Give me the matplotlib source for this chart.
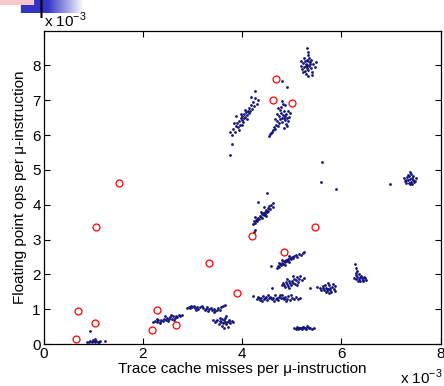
import matplotlib
matplotlib.use("Agg")
import matplotlib.pyplot as plt
import numpy as np

plt.rcParams.update({
    "font.family": ["Liberation Sans", "DejaVu Sans"],
    "font.size": 10,
    "xtick.direction": "in",
    "ytick.direction": "in",
})

# blue samples (units of 1e-3), grouped by cluster
blue_pts = [
    # top cluster
    (5.31, 8.02), (5.28, 8.05), (5.35, 7.98), (5.25, 7.95), (5.38, 8.10), (5.30, 8.15),
    (5.22, 8.08), (5.33, 7.88), (5.40, 7.92), (5.27, 7.85), (5.36, 8.20), (5.19, 7.98),
    (5.44, 8.03), (5.29, 7.76), (5.34, 8.30), (5.24, 8.22), (5.41, 7.80), (5.21, 7.90),
    (5.47, 7.96), (5.32, 7.70), (5.26, 8.12), (5.37, 8.05), (5.30, 7.93), (5.34, 8.12),
    (5.28, 7.98), (5.39, 8.16), (5.18, 8.12), (5.50, 8.10), (5.42, 7.72), (5.31, 8.49),
    (5.33, 8.38), (5.23, 7.80),
    # left diagonal
    (3.76, 6.10), (3.80, 6.00), (3.82, 6.18), (3.85, 6.08), (3.88, 6.25), (3.90, 6.35),
    (3.92, 6.22), (3.94, 6.40), (3.96, 6.30), (3.97, 6.50), (3.99, 6.42), (4.01, 6.55),
    (4.02, 6.38), (4.04, 6.48), (4.05, 6.60), (4.07, 6.52), (4.08, 6.66), (4.10, 6.58),
    (4.12, 6.70), (4.14, 6.62), (4.15, 6.78), (4.17, 6.68), (4.19, 6.85), (4.21, 6.75),
    (4.22, 6.95), (4.25, 6.82), (4.27, 7.05), (4.30, 6.90), (4.33, 7.00), (4.18, 7.10),
    (4.26, 7.26), (3.87, 6.55), (3.93, 6.15), (4.00, 6.28), (3.98, 6.60), (4.06, 6.72),
    (3.84, 6.35), (4.11, 6.45), (3.75, 5.42), (3.79, 5.75),
    # right diagonal
    (4.55, 5.97), (4.57, 6.02), (4.59, 6.05), (4.60, 6.10), (4.62, 6.15), (4.64, 6.22),
    (4.66, 6.18), (4.68, 6.30), (4.70, 6.40), (4.72, 6.25), (4.74, 6.55), (4.75, 6.35),
    (4.77, 6.45), (4.78, 6.62), (4.80, 6.50), (4.81, 6.38), (4.83, 6.58), (4.84, 6.48),
    (4.85, 6.70), (4.86, 6.42), (4.87, 6.55), (4.88, 6.60), (4.89, 6.32), (4.90, 6.48),
    (4.92, 6.68), (4.93, 6.40), (4.95, 6.52), (4.97, 6.62), (4.79, 6.80), (4.82, 6.90),
    (4.86, 6.85), (4.76, 6.72), (4.70, 6.60), (4.91, 6.25), (4.80, 6.97), (4.90, 7.38),
    (4.81, 7.54), (4.73, 6.78), (4.84, 6.20), (4.66, 6.45),
    # far right
    (7.38, 4.73), (7.35, 4.70), (7.42, 4.76), (7.33, 4.78), (7.40, 4.66), (7.45, 4.72),
    (7.30, 4.72), (7.37, 4.82), (7.44, 4.81), (7.36, 4.63), (7.48, 4.69), (7.28, 4.68),
    (7.41, 4.88), (7.34, 4.86), (7.50, 4.77), (7.39, 4.60), (7.31, 4.62), (7.46, 4.64),
    (7.26, 4.76), (7.43, 4.58), (7.38, 4.95), (6.98, 4.59),
    # strays
    (5.61, 5.23), (5.59, 4.64), (5.90, 4.45), (4.50, 4.33),
    # mid diagonal ~ (4.4, 3.7)
    (4.22, 3.45), (4.24, 3.52), (4.26, 3.48), (4.28, 3.56), (4.30, 3.60), (4.31, 3.53),
    (4.33, 3.63), (4.35, 3.58), (4.36, 3.68), (4.38, 3.65), (4.40, 3.72), (4.41, 3.62),
    (4.43, 3.76), (4.44, 3.70), (4.46, 3.80), (4.47, 3.74), (4.49, 3.85), (4.50, 3.78),
    (4.52, 3.90), (4.53, 3.82), (4.55, 3.95), (4.57, 3.88), (4.59, 4.00), (4.62, 3.92),
    (4.63, 4.04), (4.33, 4.09), (4.45, 3.92), (4.38, 3.80), (4.27, 3.65), (4.48, 3.68),
    (4.24, 3.21), (4.26, 3.27),
    # ~ (4.9, 2.4)
    (4.71, 2.19), (4.73, 2.25), (4.75, 2.22), (4.77, 2.30), (4.79, 2.27), (4.81, 2.33),
    (4.83, 2.30), (4.85, 2.38), (4.87, 2.35), (4.89, 2.42), (4.90, 2.37), (4.92, 2.45),
    (4.93, 2.40), (4.95, 2.36), (4.96, 2.48), (4.98, 2.43), (5.00, 2.50), (5.02, 2.46),
    (5.05, 2.52), (5.08, 2.55), (5.11, 2.50), (5.14, 2.58), (5.18, 2.56), (5.22, 2.62),
    (5.25, 2.64), (4.86, 2.28), (4.80, 2.40), (4.94, 2.52), (4.74, 2.33), (4.59, 2.25),
    # ~ (5.0, 1.75)
    (4.80, 1.70), (4.83, 1.74), (4.85, 1.68), (4.88, 1.77), (4.90, 1.72), (4.92, 1.66),
    (4.94, 1.80), (4.96, 1.74), (4.98, 1.69), (5.00, 1.82), (5.02, 1.76), (5.04, 1.88),
    (5.06, 1.72), (5.08, 1.84), (5.10, 1.92), (5.12, 1.78), (5.14, 1.86), (5.17, 1.95),
    (5.20, 1.83), (5.24, 1.90), (4.87, 1.63), (4.95, 1.62), (5.03, 1.95), (5.11, 1.70),
    (4.91, 1.86), (4.60, 1.62),
    # band ~ 1.3
    (4.22, 1.37), (4.30, 1.30), (4.33, 1.35), (4.36, 1.27), (4.39, 1.32), (4.42, 1.38),
    (4.45, 1.29), (4.48, 1.34), (4.51, 1.26), (4.54, 1.31), (4.57, 1.36), (4.60, 1.28),
    (4.63, 1.33), (4.66, 1.40), (4.69, 1.30), (4.72, 1.25), (4.75, 1.35), (4.78, 1.31),
    (4.81, 1.42), (4.84, 1.28), (4.87, 1.34), (4.90, 1.30), (4.93, 1.37), (4.96, 1.27),
    (5.00, 1.33), (5.04, 1.30), (5.08, 1.36), (5.12, 1.29), (5.17, 1.32), (4.40, 1.24),
    (4.52, 1.40), (4.64, 1.24), (4.76, 1.40), (4.88, 1.24), (4.98, 1.40), (4.34, 1.32),
    (4.46, 1.31), (4.58, 1.33), (4.70, 1.33), (4.82, 1.32),
    # ~ (5.74, 1.6)
    (5.74, 1.59), (5.70, 1.62), (5.78, 1.56), (5.66, 1.55), (5.81, 1.64), (5.72, 1.52),
    (5.76, 1.68), (5.63, 1.60), (5.85, 1.58), (5.68, 1.70), (5.80, 1.50), (5.60, 1.56),
    (5.87, 1.66), (5.75, 1.47), (5.69, 1.48), (5.83, 1.72), (5.64, 1.66), (5.73, 1.74),
    (5.58, 1.62), (5.88, 1.53), (5.71, 1.57), (5.77, 1.61), (5.37, 1.61), (5.52, 1.63),
    # ~ (5.25, 0.46)
    (5.04, 0.46), (5.08, 0.44), (5.11, 0.48), (5.14, 0.45), (5.17, 0.47), (5.20, 0.43),
    (5.23, 0.49), (5.26, 0.46), (5.29, 0.44), (5.32, 0.48), (5.35, 0.45), (5.38, 0.47),
    (5.42, 0.44), (5.46, 0.46), (5.13, 0.42), (5.22, 0.50), (5.30, 0.51), (5.18, 0.45),
    (5.27, 0.47), (5.10, 0.46),
    # ~ (6.37, 1.88)
    (6.26, 1.90), (6.29, 1.86), (6.32, 1.93), (6.35, 1.88), (6.38, 1.82), (6.41, 1.90),
    (6.44, 1.85), (6.47, 1.89), (6.50, 1.84), (6.34, 1.80), (6.40, 1.96), (6.30, 1.98),
    (6.37, 1.92), (6.43, 1.80), (6.28, 2.31), (6.30, 2.19), (6.32, 2.10), (6.29, 2.05),
    (6.35, 2.02), (6.46, 1.93),
    # band ~ 1.0
    (2.89, 1.04), (2.93, 1.07), (2.96, 1.02), (3.00, 1.06), (3.03, 1.09), (3.06, 1.03),
    (3.09, 1.07), (3.12, 1.01), (3.15, 1.05), (3.19, 1.08), (3.22, 1.03), (3.25, 0.98),
    (3.28, 1.01), (3.31, 0.96), (3.34, 1.00), (3.37, 1.04), (3.40, 0.97), (3.43, 1.01),
    (3.46, 0.95), (3.49, 0.99), (3.52, 1.03), (3.55, 0.97), (3.58, 1.06), (3.61, 1.10),
    (3.29, 1.05), (3.44, 0.93), (3.08, 0.99), (2.98, 1.10), (3.66, 1.11),
    # ~ (3.63, 0.64)
    (3.42, 0.68), (3.46, 0.62), (3.50, 0.70), (3.53, 0.58), (3.56, 0.66), (3.59, 0.72),
    (3.62, 0.61), (3.64, 0.68), (3.67, 0.56), (3.70, 0.64), (3.73, 0.70), (3.76, 0.60),
    (3.79, 0.66), (3.82, 0.63), (3.60, 0.52), (3.66, 0.76), (3.55, 0.74), (3.71, 0.50),
    (3.63, 0.46), (3.48, 0.66), (3.68, 0.80), (3.58, 0.62), (3.74, 0.66), (3.65, 0.64),
    # ~ (2.5, 0.72)
    (2.21, 0.63), (2.25, 0.66), (2.28, 0.62), (2.31, 0.68), (2.34, 0.64), (2.37, 0.70),
    (2.40, 0.67), (2.43, 0.73), (2.46, 0.69), (2.49, 0.75), (2.52, 0.71), (2.55, 0.77),
    (2.58, 0.73), (2.61, 0.79), (2.64, 0.75), (2.67, 0.81), (2.70, 0.77), (2.73, 0.82),
    (2.76, 0.79), (2.79, 0.83), (2.35, 0.61), (2.50, 0.65), (2.62, 0.70), (2.44, 0.80),
    (2.57, 0.83), (2.29, 0.72),
    # ~ (1.0, 0.07)
    (0.88, 0.07), (0.91, 0.05), (0.94, 0.09), (0.97, 0.06), (1.00, 0.08), (1.03, 0.05),
    (1.06, 0.10), (1.09, 0.07), (1.12, 0.06), (1.14, 0.09), (1.04, 0.15), (0.99, 0.11),
    (1.24, 0.10), (0.94, 0.38),
]

# red circles (units of 1e-3)
red_x = [0.66, 0.69, 1.04, 1.05, 1.53, 2.19, 2.28, 2.66, 3.34, 3.90, 4.20, 4.62, 4.69, 4.85, 5.00, 5.47]
red_y = [0.13, 0.95, 0.59, 3.35, 4.62, 0.39, 0.97, 0.54, 2.33, 1.47, 3.09, 7.01, 7.60, 2.64, 6.92, 3.37]

blue = np.array(blue_pts)

fig = plt.figure(figsize=(4.44, 3.86), dpi=100)

# slide decoration in the top-left corner
deco = fig.add_axes([0, 1 - 18 / 386, 82 / 444, 18 / 386])
img = np.ones((18, 80, 3))
for j in range(80):
    if j >= 20:
        t = min(max((j - 45) / 35, 0), 1)
        img[:13, j] = np.array([0.2, 0.2, 0.78]) * (1 - t) + np.array([1, 1, 1]) * t
    if j < 33:
        img[:5, j] = [0.98, 0.78, 0.8]
img[:, 39:41] = 0
deco.imshow(img, aspect="auto", extent=[0, 80, 18, 0])
deco.axis("off")

ax = fig.add_axes([43.5 / 444, 42 / 386, 397 / 444, 313.5 / 386])
ax.plot(blue[:, 0], blue[:, 1], ".", color="#14147a", ms=4, mew=0)
ax.plot(red_x, red_y, "o", mfc="none", mec="red", ms=5, mew=0.9)

ax.set_xlim(0, 8)
ax.set_ylim(0, 9)
ax.set_xticks([0, 2, 4, 6, 8])
ax.set_yticks(range(0, 9))
ax.tick_params(top=True, right=True, length=4, width=0.8, labelsize=11, pad=2)
for s in ax.spines.values():
    s.set_linewidth(0.9)

ax.set_xlabel("Trace cache misses per \u03bc-instruction", fontsize=11, labelpad=1)
ax.set_ylabel("Floating point ops per \u03bc-instruction", fontsize=11, labelpad=4)

fig.text(44 / 444, 1 - 27 / 386, "x 10$^{\\mathregular{-3}}$", fontsize=11, ha="left", va="baseline")
fig.text(400 / 444, 1 - 384 / 386, "x 10$^{\\mathregular{-3}}$", fontsize=11, ha="left", va="baseline")

fig.savefig("out.png", dpi=100)
